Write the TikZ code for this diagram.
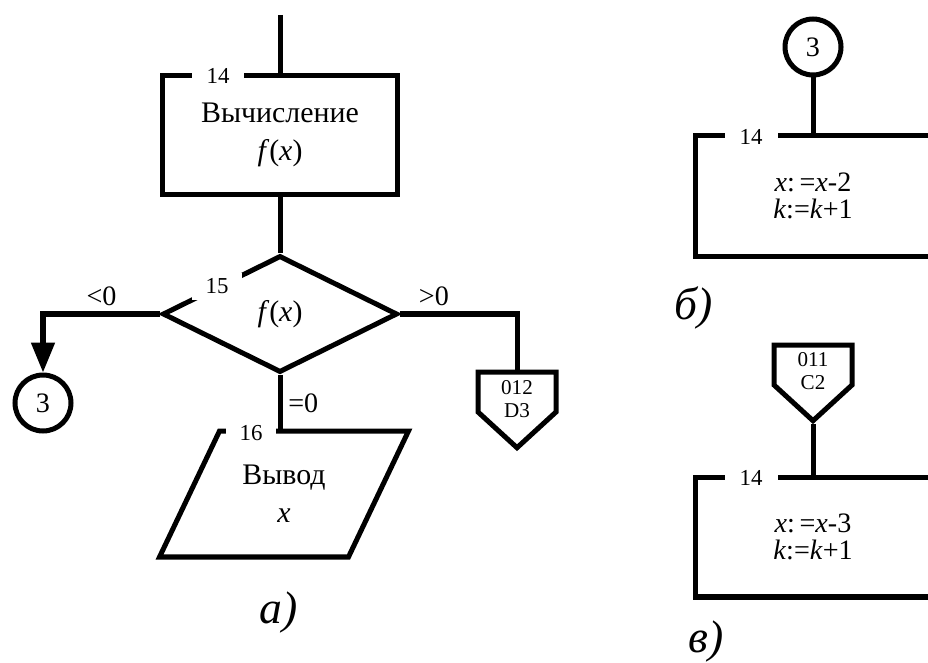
\documentclass[tikz,border=0pt]{standalone}
\usepackage{fontspec}
\setmainfont{Liberation Serif}
\usetikzlibrary{shapes.geometric,shapes.symbols,arrows.meta}

\begin{document}
\begin{tikzpicture}
	[x=0.02cm,y=-0.02cm,line width=2.85pt,
	proc/.style={draw,rectangle,minimum width=4.72cm,minimum height=2.38cm,align=center},
	ifbox/.style={draw,diamond,aspect=2,minimum width=4.7cm,minimum height=2.34cm,inner sep=0pt},
	iobox/.style={rectangle,minimum width=3.68cm,minimum height=2.42cm,align=center},
	conn/.style={draw,circle,minimum size=1.12cm,inner sep=0pt,font=\fontsize{16}{16}\selectfont},
	offpage/.style={draw,signal,signal to=south,signal from=nowhere,signal pointer angle=95,
		minimum width=1.56cm,minimum height=0.8cm,inner sep=0pt},
	offtxt/.style={inner sep=0pt,align=center,font=\fontsize{12}{13}\selectfont},
	num/.style={fill=white,inner sep=0pt,minimum width=1.06cm,minimum height=0.42cm,font=\fontsize{13}{13}\selectfont},
	lbl/.style={font=\fontsize{16}{16}\selectfont},
	figcap/.style={font=\fontsize{26}{26}\selectfont\itshape},
	txt/.style={font=\fontsize{17}{21.5}\selectfont},
	asg/.style={font=\fontsize{16}{15}\selectfont}]
	\clip (0,0) rectangle (928,662);

	% a)
	\coordinate (topa) at (280,15);
	\node[proc,txt] (calc) at (280,135) {Вычисление\\\textit{f}(\textit{x})};
	\node[num] (n14a) at (218,76) {14};
	\node[ifbox,txt] (test) at (280,314) {\textit{f}(\textit{x})};
	\node[num,minimum width=1.0cm,minimum height=0.54cm] (n15) at (217,286) {15};
	\node[conn] (c3a) at (43,403) {3};
	\node[offpage] (offa) at (517,392) {};
	\node[offtxt] (offatxt) at ([yshift=-0.14cm]offa.center) {012\\D3};
	\node[iobox,txt] (outx) at (284,494) {Вывод\\\textit{x}};
	\draw ([xshift=-0.6cm]outx.south west) -- ([xshift=0.6cm]outx.north west)
		-- ([xshift=0.6cm]outx.north east) -- ([xshift=-0.6cm]outx.south east) -- cycle;
	\node[num,minimum width=1.0cm] (n16) at (251,433) {16};
	\node[figcap] (capa) at (279,613) {а)};

	\draw (topa) -- (calc);
	\draw (calc) -- (test);
	\draw[-{Triangle[length=0.6cm,width=0.46cm]}] (test.west) -| node[lbl,pos=0.25,above] {<0} (c3a);
	\draw (test.east) -| node[lbl,pos=0.145,above] {>0} (offa.north);
	\draw (test.south) -- node[lbl,right] {=0} (test.south |- outx.north);

	% b)
	\node[conn] (c3b) at (813,47) {3};
	\node[proc,asg,minimum height=2.42cm] (incb) at (813,196) {\textit{x}:\,=\textit{x}-2\\\textit{k}:=\textit{k}+1};
	\node[num] (n14b) at (751,137) {14};
	\node[figcap] (capb) at (694,308) {б)};
	\draw (c3b) -- (incb);

	% v)
	\node[offpage] (offv) at (813,365) {};
	\node[offtxt] (offvtxt) at ([yshift=-0.12cm]offv.center) {011\\C2};
	\node[proc,asg,minimum height=2.4cm] (incv) at (813,537) {\textit{x}:\,=\textit{x}-3\\\textit{k}:=\textit{k}+1};
	\node[num] (n14v) at (751,478) {14};
	\node[figcap] (capv) at (706,642) {в)};
	\draw (offv.south) -- (incv.north);
\end{tikzpicture}
\end{document}
